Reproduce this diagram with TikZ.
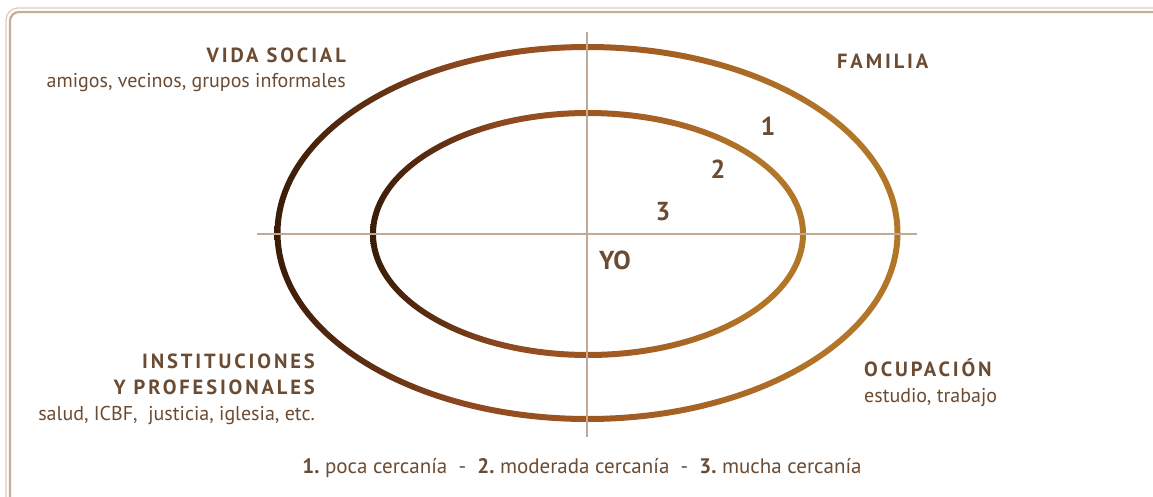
\documentclass[tikz,border=0pt]{standalone}
\usepackage{fontspec}
\setmainfont{PT Sans}
\newfontfamily\spacedfont[LetterSpace=14]{PT Sans}

\definecolor{textbrown}{HTML}{6B4B32}
\definecolor{axisgray}{HTML}{C0AA96}
\definecolor{frameout}{HTML}{DCCBBC}
\definecolor{framein}{HTML}{C4AD99}
\definecolor{ringdark}{HTML}{3A1C07}
\definecolor{ringred}{HTML}{8E4820}
\definecolor{ringmid}{HTML}{9E5622}
\definecolor{ringgold}{HTML}{B27629}

% sfumatura degli anelli, da sinistra (scuro) a destra (oro)
\pgfdeclarehorizontalshading{ringshade}{100bp}{%
  color(0bp)=(ringdark); color(25bp)=(ringdark); color(33bp)=(ringdark!55!ringred);
  color(40bp)=(ringred); color(50bp)=(ringmid); color(70bp)=(ringgold); color(100bp)=(ringgold)}

\begin{document}
\begin{tikzpicture}[x=1pt,y=-1pt,
    titolo/.style={font=\spacedfont\bfseries\fontsize{20.5}{24}\selectfont, text=textbrown, inner sep=0pt},
    sotto/.style={font=\fontsize{20}{24}\selectfont, text=textbrown, inner sep=0pt},
    numero/.style={font=\bfseries\fontsize{26}{30}\selectfont, text=textbrown, inner sep=0pt}]
    % Area della figura
    \path[use as bounding box, clip] (0,0) rectangle (1153,497);

    % Cornice doppia
    \draw[frameout, line width=1.2pt, rounded corners=12pt] (6,8) rectangle (1180,520);
    \draw[framein, line width=2.2pt, rounded corners=9pt] (10,12) rectangle (1180,520);

    % Anelli
    \shade[shading=ringshade, even odd rule] (587.5,233) ellipse (313 and 189) (587.5,233) ellipse (307 and 183);
    \shade[shading=ringshade, even odd rule] (588,234) ellipse (218 and 124) (588,234) ellipse (212 and 118);

    % Assi
    \draw[axisgray, line width=1.5pt] (257,234) -- (917,234); % asse orizzontale
    \draw[axisgray, line width=1.5pt] (587,32) -- (587,437);  % asse verticale

    % Livelli di cercania
    \node[numero] (n1) at (768,126) {1};
    \node[numero] (n2) at (718,169) {2};
    \node[numero] (n3) at (663,212) {3};
    \node[numero, anchor=base] (yo) at (615,269) {YO};

    % Etichette dei quadranti
    \node[titolo, anchor=base east] (vida) at (346,63) {VIDA SOCIAL};
    \node[sotto, anchor=base east] (vidasub) at (346,88) {amigos, vecinos, grupos informales};
    \node[titolo, anchor=base west] (familia) at (837,69) {FAMILIA};
    \node[titolo, anchor=base east] (inst) at (315,368) {INSTITUCIONES};
    \node[titolo, anchor=base east] (prof) at (315,394) {Y PROFESIONALES};
    \node[sotto, anchor=base east] (instsub) at (315,420) {salud, ICBF,\ \ justicia, iglesia, etc.};
    \node[titolo, anchor=base west] (ocup) at (864,376) {OCUPACIÓN};
    \node[sotto, anchor=base west] (ocupsub) at (864,402) {estudio, trabajo};

    % Leyenda
    \node[sotto, anchor=base, font=\fontsize{21}{24}\selectfont] (leyenda) at (582,473)
      {\textbf{1.}\ poca cercanía\ \ -\ \ \textbf{2.}\ moderada cercanía\ \ -\ \ \textbf{3.}\ mucha cercanía};
\end{tikzpicture}
\end{document}
